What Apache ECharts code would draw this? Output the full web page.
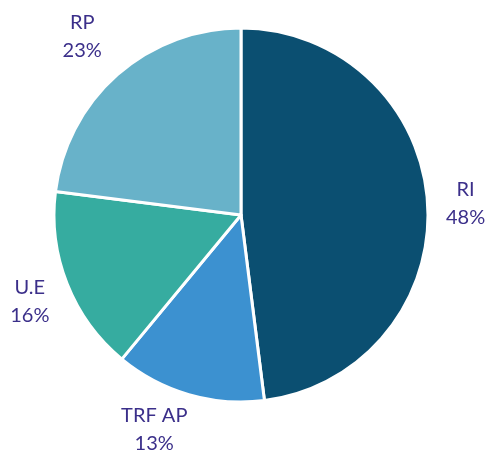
<!DOCTYPE html>
<html style="height: 100%">
<head>
<meta charset="utf-8">
<script src="https://cdn.jsdelivr.net/npm/echarts@6/dist/echarts.min.js"></script>
</head>
<body style="height: 100%; margin: 0; background: #fff">
<div id="container" style="width: 488px; height: 454px"></div>
<script type="text/javascript">
// data
var names = ['RI', 'TRF AP', 'U.E', 'RP'];
var values = [48, 13, 16, 23];
var colors = ['#0b4f71', '#3c91d0', '#36aca0', '#68b2c9'];

var myChart = echarts.init(document.getElementById('container'));

var pieData = [];
var labelData = [];
for (var i = 0; i < names.length; i++) {
	pieData.push({ name: names[i], value: values[i], itemStyle: { color: colors[i] } });
	labelData.push({ name: names[i], value: values[i] });
}

// small label nudges (pixels) so they sit like the original
var nudge = [[0, 3], [-24, -2], [-2, 4], [-10, -10]];

var option = {
	animation: false,
	series: [
	{
		// the visible pie
		type: 'pie',
		center: [241, 215],
		radius: 187,
		startAngle: 90,
		clockwise: true,
		itemStyle: { borderColor: '#fff', borderWidth: 3 },
		label: { show: false },
		labelLine: { show: false },
		data: pieData
	},
	{
		// transparent ring only used to place the labels
		type: 'pie',
		center: [241, 215],
		radius: [214, 230],
		startAngle: 90,
		clockwise: true,
		silent: true,
		itemStyle: { color: 'rgba(0,0,0,0)' },
		label: {
			show: true,
			position: 'inside',
			formatter: function (p) { return p.name + '\n' + Math.round(p.percent) + '%'; },
			color: '#3b2f8a',
			fontFamily: 'Lato',
			fontSize: 20,
			lineHeight: 28
		},
		labelLayout: function (p) {
			return { dx: nudge[p.dataIndex][0], dy: nudge[p.dataIndex][1] };
		},
		labelLine: { show: false },
		data: labelData
	}
	]
};
myChart.setOption(option, true);
</script>
</body>
</html>
